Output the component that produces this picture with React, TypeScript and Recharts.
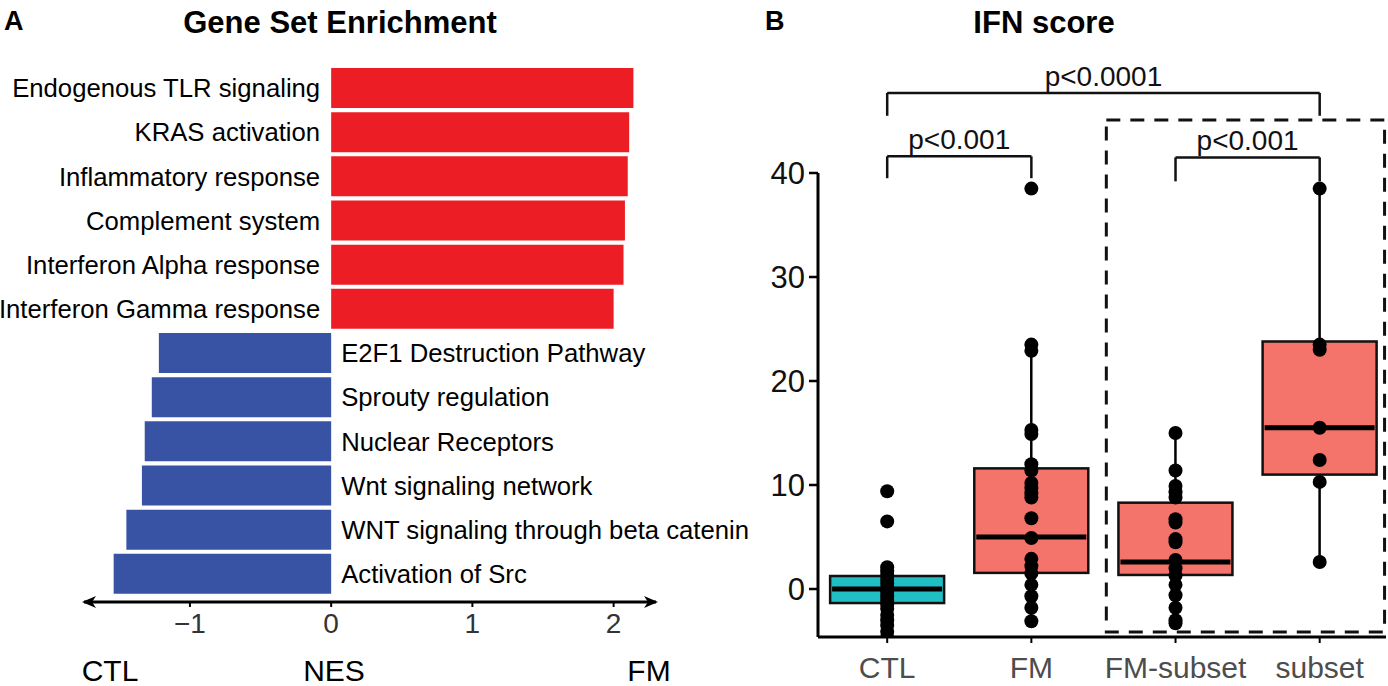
import React from 'react';
import {
  BarChart,
  Bar,
  XAxis,
  YAxis,
  Cell,
  LabelList,
  ComposedChart,
  Scatter,
  ReferenceLine,
  ReferenceArea,
} from 'recharts';

const FONT = '"Liberation Sans", Arial, Helvetica, sans-serif';
const RED = '#EC1D25';
const BLUE = '#3953A4';

// Panel A: gene set enrichment, NES per pathway
const pathways = [
  'Endogenous TLR signaling',
  'KRAS activation',
  'Inflammatory response',
  'Complement system',
  'Interferon Alpha response',
  'Interferon Gamma response',
  'E2F1 Destruction Pathway',
  'Sprouty regulation',
  'Nuclear Receptors',
  'Wnt signaling network',
  'WNT signaling through beta catenin',
  'Activation of Src',
];
const nesValues = [2.14, 2.11, 2.1, 2.08, 2.07, 2.0, -1.22, -1.27, -1.32, -1.34, -1.45, -1.54];
const nesTicks = [-1, 0, 1, 2];

// Panel B: IFN score box plots
const groups = ['CTL', 'FM', 'FM-subset', 'subset'];
const boxColors = ['#1FBFC3', '#F4736B', '#F4736B', '#F4736B'];
const whiskerLow = [-4.6, -3.1, -3.2, 2.6];
const q1 = [-1.35, 1.55, 1.35, 11.0];
const medians = [0, 5.0, 2.6, 15.5];
const q3 = [1.25, 11.6, 8.3, 23.8];
const whiskerHigh = [2.0, 23.5, 15.0, 38.5];

const ctlScores = [9.4, 6.5, 2.1, 1.7, 1.3, 0.9, 0.5, 0.1, -0.3, -0.7, -1.1, -1.5, -1.9, -2.5, -3.0, -3.5, -4.1, -4.6];
const fmScores = [38.5, 23.5, 22.9, 15.3, 14.9, 12.0, 11.4, 10.2, 9.7, 9.2, 8.8, 6.8, 4.9, 2.9, 2.2, 1.5, 0.4, -0.7, -1.8, -3.1];
const fmSubsetScores = [15.0, 11.4, 9.9, 9.3, 8.8, 6.7, 6.4, 4.8, 4.5, 2.8, 2.0, 1.3, 0.4, -0.6, -1.8, -3.0, -3.3];
const subsetScores = [38.5, 23.5, 23.0, 15.5, 12.4, 10.3, 2.6];
const ifnTicks = [0, 10, 20, 30, 40];

// significance brackets (group index from/to, y of bar, y of legs)
const brackets = [
  { from: 0, to: 3, top: 47.7, leg: 45.5, text: 'p<0.0001' },
  { from: 0, to: 1, top: 41.6, leg: 39.5, text: 'p<0.001' },
  { from: 2, to: 3, top: 41.5, leg: 39.2, text: 'p<0.001' },
];
// dashed frame around FM-subset / subset
const subsetFrame = { x1: 1.52, x2: 3.45, y1: -4.13, y2: 45.1 };

const nesData = pathways.map((name, i) => ({ name, nes: nesValues[i] }));

const boxData = groups.map((g, i) => ({
  pos: i,
  name: g,
  lo: whiskerLow[i],
  q1: q1[i],
  median: medians[i],
  q3: q3[i],
  hi: whiskerHigh[i],
  color: boxColors[i],
}));

const scatterData = [ctlScores, fmScores, fmSubsetScores, subsetScores].flatMap((vals, i) =>
  vals.map((score) => ({ pos: i, score }))
);

function PathwayLabel(props: any) {
  const vb = props.viewBox ?? props;
  const { x, y, width, height } = vb;
  const nes = nesValues[props.index] ?? 0;
  const left = Math.min(x, x + width);
  const right = Math.max(x, x + width);
  const cy = y + height / 2;
  const positive = nes >= 0;
  return (
    <text
      x={positive ? left - 11 : right + 10}
      y={cy}
      dy="0.36em"
      textAnchor={positive ? 'end' : 'start'}
      fontSize={25.7}
      fontFamily={FONT}
      fill="#000"
    >
      {props.value}
    </text>
  );
}

function BoxShape(props: any) {
  const { x, y, width, height, payload } = props;
  if (!payload) return null;
  const top = Math.min(y, y + height);
  const bottom = Math.max(y, y + height);
  const span = payload.hi - payload.lo;
  const py = (v: number) => top + ((payload.hi - v) / span) * (bottom - top);
  const cx = x + width / 2;
  return (
    <g>
      <line x1={cx} x2={cx} y1={py(payload.hi)} y2={py(payload.lo)} stroke="#000" strokeWidth={2.5} />
      <rect
        x={x}
        y={py(payload.q3)}
        width={width}
        height={py(payload.q1) - py(payload.q3)}
        fill={payload.color}
        stroke="#111"
        strokeWidth={2.5}
      />
      <line x1={x + 2} x2={x + width - 2} y1={py(payload.median)} y2={py(payload.median)} stroke="#000" strokeWidth={5} />
    </g>
  );
}

function Dot(props: any) {
  return <circle cx={props.cx} cy={props.cy} r={7} fill="#000" />;
}

function EnrichmentPanel() {
  return (
    <BarChart
      width={760}
      height={686}
      data={nesData}
      layout="vertical"
      margin={{ top: 66, right: 104, bottom: 54, left: 84 }}
      barCategoryGap={2}
    >
      <defs>
        <marker
          id="nesArrow"
          viewBox="0 0 14 14"
          refX={12}
          refY={7}
          markerWidth={14}
          markerHeight={14}
          markerUnits="userSpaceOnUse"
          orient="auto-start-reverse"
        >
          <path d="M0,1 L14,7 L0,13 L4,7 Z" fill="#000" />
        </marker>
      </defs>
      <XAxis
        type="number"
        domain={[-1.75, 2.3]}
        ticks={nesTicks}
        allowDataOverflow
        interval={0}
        height={30}
        axisLine={{ stroke: '#000', strokeWidth: 3, markerStart: 'url(#nesArrow)', markerEnd: 'url(#nesArrow)' }}
        tickLine={{ stroke: '#000', strokeWidth: 2 }}
        tickSize={5}
        tickMargin={6}
        tick={{ fontSize: 28, fill: '#333', fontFamily: FONT }}
        tickFormatter={(v: number) => (v < 0 ? `\u2212${Math.abs(v)}` : `${v}`)}
      />
      <YAxis type="category" dataKey="name" hide width={0} padding={{ top: 0, bottom: 6 }} />
      <Bar dataKey="nes" isAnimationActive={false}>
        {nesData.map((d, i) => (
          <Cell key={i} fill={d.nes >= 0 ? RED : BLUE} />
        ))}
        <LabelList dataKey="name" content={(p: any) => <PathwayLabel {...p} />} />
      </Bar>
    </BarChart>
  );
}

function IfnPanel() {
  return (
    <ComposedChart
      width={688}
      height={686}
      data={boxData}
      margin={{ top: 69, right: 2, bottom: 0, left: 0 }}
    >
      <XAxis
        type="number"
        dataKey="pos"
        domain={[-0.48, 3.46]}
        allowDataOverflow
        ticks={[0, 1, 2, 3]}
        interval={0}
        tickFormatter={(i: number) => groups[i] ?? ''}
        height={49}
        axisLine={{ stroke: '#000', strokeWidth: 3 }}
        tickLine={{ stroke: '#000', strokeWidth: 2 }}
        tickSize={6}
        tickMargin={14}
        tick={{ fontSize: 30, fill: '#4d4d4d', fontFamily: FONT }}
      />
      <YAxis
        type="number"
        domain={[-4.615, 50]}
        allowDataOverflow
        ticks={ifnTicks}
        interval={0}
        width={118}
        axisLine={false}
        tickLine={{ stroke: '#000', strokeWidth: 2.5 }}
        tickSize={9}
        tickMargin={4}
        tick={{ fontSize: 31, fill: '#111', fontFamily: FONT }}
      />
      <ReferenceArea
        x1={subsetFrame.x1}
        x2={subsetFrame.x2}
        y1={subsetFrame.y1}
        y2={subsetFrame.y2}
        fill="none"
        stroke="#111"
        strokeWidth={3}
        strokeDasharray="14 10"
        ifOverflow="visible"
      />
      <ReferenceLine
        segment={[{ x: -0.48, y: -4.615 }, { x: -0.48, y: 40 }]}
        stroke="#000"
        strokeWidth={3}
        ifOverflow="visible"
      />
      <Bar
        dataKey={(d: any) => [d.lo, d.hi]}
        barSize={114}
        shape={(p: any) => <BoxShape {...p} />}
        isAnimationActive={false}
      />
      <Scatter data={scatterData} dataKey="score" shape={(p: any) => <Dot {...p} />} isAnimationActive={false} />
      {brackets.flatMap((b, i) => [
        <ReferenceLine
          key={`t${i}`}
          segment={[{ x: b.from, y: b.top }, { x: b.to, y: b.top }]}
          stroke="#111"
          strokeWidth={2.5}
          ifOverflow="visible"
          label={{ value: b.text, position: 'top', offset: 7, fontSize: 28, fill: '#111', fontFamily: FONT }}
        />,
        <ReferenceLine
          key={`l${i}`}
          segment={[{ x: b.from, y: b.top }, { x: b.from, y: b.leg }]}
          stroke="#111"
          strokeWidth={2.5}
          ifOverflow="visible"
        />,
        <ReferenceLine
          key={`r${i}`}
          segment={[{ x: b.to, y: b.top }, { x: b.to, y: b.leg }]}
          stroke="#111"
          strokeWidth={2.5}
          ifOverflow="visible"
        />,
      ])}
    </ComposedChart>
  );
}

export default function App() {
  return (
    <div style={{ position: 'absolute', left: 0, top: 0, width: 1388, height: 686, background: '#fff', fontFamily: FONT }}>
      <div style={{ position: 'absolute', left: 0, top: 0 }}>
        <EnrichmentPanel />
      </div>
      <div style={{ position: 'absolute', left: 700, top: 0 }}>
        <IfnPanel />
      </div>
      <svg width={1388} height={686} style={{ position: 'absolute', left: 0, top: 0, pointerEvents: 'none' }}>
        <g fontFamily={FONT} fill="#000">
          <text x={4} y={21} dominantBaseline="central" fontSize={27} fontWeight="bold">A</text>
          <text x={340} y={22} dominantBaseline="central" textAnchor="middle" fontSize={31} fontWeight="bold">Gene Set Enrichment</text>
          <text x={765} y={21} dominantBaseline="central" fontSize={27} fontWeight="bold">B</text>
          <text x={1044} y={22} dominantBaseline="central" textAnchor="middle" fontSize={31} fontWeight="bold">IFN score</text>
          <text x={110} y={670} dominantBaseline="central" textAnchor="middle" fontSize={30}>CTL</text>
          <text x={334} y={670} dominantBaseline="central" textAnchor="middle" fontSize={30}>NES</text>
          <text x={649} y={670} dominantBaseline="central" textAnchor="middle" fontSize={30}>FM</text>
        </g>
      </svg>
    </div>
  );
}
